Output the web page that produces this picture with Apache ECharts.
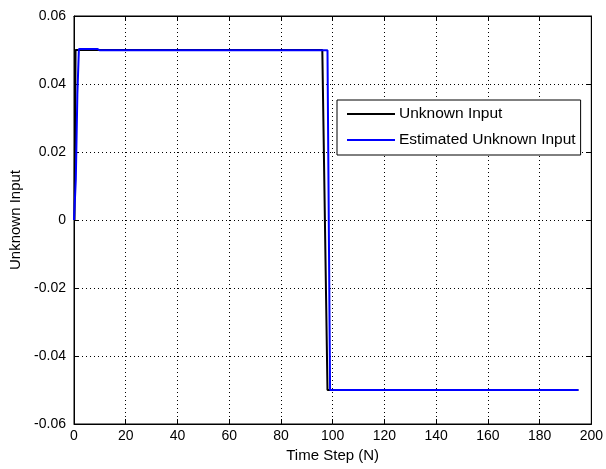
<!DOCTYPE html>
<html>
<head>
<meta charset="utf-8">
<script src="https://cdn.jsdelivr.net/npm/echarts@6/dist/echarts.min.js"></script>
<style>html,body{margin:0;padding:0;background:#fff;}#c{width:606px;height:469px;}</style>
</head>
<body>
<div id="c"></div>
<script>
// Series: [time step, value] vertices of each trace
const unknownInput = [[0.2, 0], [0.6, 0.05], [96, 0.05], [98, -0.05], [195, -0.05]];
const estimatedInput = [[0, 0], [0.6, 0], [0.7, 0.012], [1.3, 0.037], [1.9, 0.0503], [9, 0.0503], [10, 0.0499], [98, 0.0499], [99, -0.05], [195, -0.05]];
const seriesNames = ['Unknown Input', 'Estimated Unknown Input'];
const xTicks = [0, 20, 40, 60, 80, 100, 120, 140, 160, 180, 200];
const yTicks = [-0.06, -0.04, -0.02, 0, 0.02, 0.04, 0.06];
const xTitle = 'Time Step (N)';
const yTitle = 'Unknown Input';

const FONT = 'Liberation Sans';
const FS = 14;
const FS_NAME = 15;
const FS_LEG = 15.5;
const chart = echarts.init(document.getElementById('c'), null, {renderer: 'canvas'});
const fmtY = v => { const r = Math.round(v * 100) / 100; return r === 0 ? '0' : r.toFixed(2); };
const baseAxis = {
  axisLine: {show: true, onZero: false, lineStyle: {color: '#000', width: 1}},
  axisTick: {show: true, inside: true, length: 5, lineStyle: {color: '#000'}},
  splitLine: {show: false}
};
chart.setOption({
  animation: false,
  backgroundColor: '#fff',
  textStyle: {fontFamily: FONT},
  grid: {left: 74, top: 16, right: 14, bottom: 45, show: true, borderColor: '#000', borderWidth: 1, backgroundColor: '#fff'},
  legend: {
    orient: 'vertical', left: 337, top: 100,
    data: seriesNames,
    icon: 'rect', itemWidth: 48, itemHeight: 2, itemGap: 10,
    backgroundColor: '#fff', borderColor: '#000', borderWidth: 1,
    padding: [6, 5, 7, 10],
    textStyle: {fontFamily: FONT, fontSize: FS_LEG, color: '#000', padding: [0, 0, 0, -1]}
  },
  xAxis: [
    Object.assign({}, baseAxis, {
      type: 'value', min: xTicks[0], max: xTicks[xTicks.length - 1], interval: 20, position: 'bottom',
      name: xTitle, nameLocation: 'middle', nameGap: 23,
      nameTextStyle: {fontFamily: FONT, fontSize: FS_NAME, color: '#000'},
      axisLabel: {show: true, color: '#000', fontFamily: FONT, fontSize: FS, margin: 5},
      splitLine: {show: true, lineStyle: {color: '#000', width: 1, type: [1, 3]}}
    }),
    Object.assign({}, baseAxis, {
      type: 'value', min: xTicks[0], max: xTicks[xTicks.length - 1], interval: 20, position: 'top',
      axisLabel: {show: false}
    })
  ],
  yAxis: [
    Object.assign({}, baseAxis, {
      type: 'value', min: yTicks[0], max: yTicks[yTicks.length - 1], interval: 0.02, position: 'left',
      name: yTitle, nameLocation: 'middle', nameGap: 47,
      nameTextStyle: {fontFamily: FONT, fontSize: FS_NAME, color: '#000'},
      axisLabel: {show: true, color: '#000', fontFamily: FONT, fontSize: FS, margin: 8, formatter: fmtY},
      splitLine: {show: true, lineStyle: {color: '#000', width: 1, type: [1, 3]}}
    }),
    Object.assign({}, baseAxis, {
      type: 'value', min: yTicks[0], max: yTicks[yTicks.length - 1], interval: 0.02, position: 'right',
      axisLabel: {show: false}
    })
  ],
  series: [
    {name: seriesNames[0], type: 'line', data: unknownInput, showSymbol: false, symbol: 'none',
     lineStyle: {color: '#000', width: 2}, itemStyle: {color: '#000'}, z: 2},
    {name: seriesNames[1], type: 'line', data: estimatedInput, showSymbol: false, symbol: 'none',
     lineStyle: {color: '#0000ff', width: 2}, itemStyle: {color: '#0000ff'}, z: 3}
  ]
});
</script>
</body>
</html>
